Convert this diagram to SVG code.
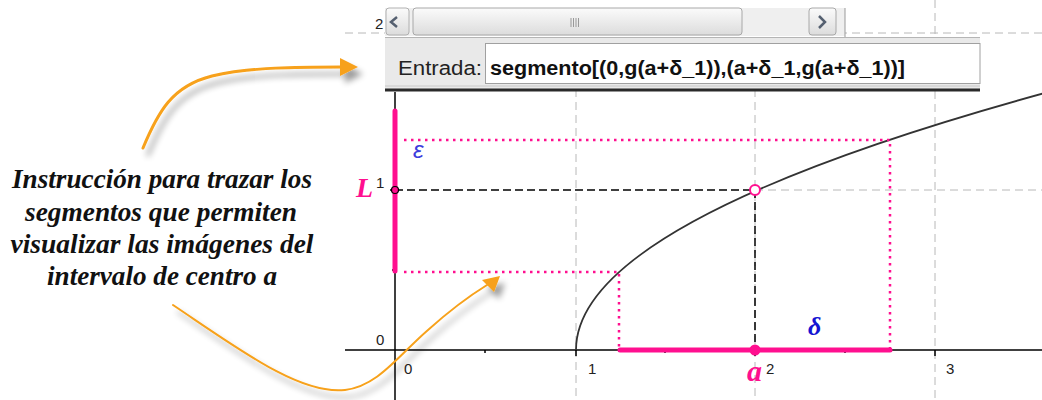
<svg xmlns="http://www.w3.org/2000/svg" width="1042" height="400" viewBox="0 0 1042 400">
<style>
.grid{stroke:#b8b8b8;stroke-width:1;stroke-dasharray:8 5;fill:none}
.axis{stroke:#000;stroke-width:1.5;fill:none}
.bdash{stroke:#000;stroke-width:1.5;stroke-dasharray:8 4;fill:none}
.pdot{stroke:#ff0f8f;stroke-width:2.5;stroke-dasharray:2.5 4.5;fill:none}
.pseg{stroke:#ff0f8f;stroke-width:5;stroke-linecap:round;fill:none}
.num{font-family:"Liberation Sans",Arial,sans-serif;font-size:15px;fill:#222}
.note{font-family:"Liberation Serif","Times New Roman",serif;font-style:italic;font-weight:bold;font-size:27px;fill:#111;text-anchor:middle}
.arr{stroke:#f7a11a;fill:none;stroke-linecap:round}
</style>
<defs>
<filter id="sh" x="-20%" y="-20%" width="150%" height="160%">
<feGaussianBlur in="SourceAlpha" stdDeviation="3"/>
<feOffset dx="5" dy="7" result="b"/>
<feComponentTransfer><feFuncA type="linear" slope="0.4"/></feComponentTransfer>
<feMerge><feMergeNode/><feMergeNode in="SourceGraphic"/></feMerge>
</filter>
<linearGradient id="thumb" x1="0" y1="0" x2="0" y2="1">
<stop offset="0" stop-color="#fbfbfb"/><stop offset="1" stop-color="#dcdcdc"/>
</linearGradient>
</defs>
<rect width="1042" height="400" fill="#fff"/>

<g id="grid">
<line class="grid" x1="576" y1="37" x2="576" y2="400"/>
<line class="grid" x1="755" y1="37" x2="755" y2="400"/>
<line class="grid" x1="935" y1="0" x2="935" y2="400"/>
<line class="grid" x1="345" y1="33" x2="1042" y2="33"/>
<line class="grid" x1="755" y1="190" x2="1042" y2="190"/>
</g>

<g id="axes">
<line class="axis" x1="345" y1="350" x2="1042" y2="350"/>
<line class="axis" x1="395" y1="92" x2="395" y2="400"/>
<path class="axis" d="M576,350v6M755,350v6M935,350v6M485,350v3M665,350v3M845,350v3M395,190h-5M395,270h-3"/>
<text class="num" x="376" y="188">1</text>
<text class="num" x="376" y="345">0</text>
<text class="num" x="404" y="374">0</text>
<text class="num" x="588" y="374">1</text>
<text class="num" x="766" y="374">2</text>
<text class="num" x="946" y="374">3</text>
<text class="num" x="375" y="29" font-size="17">2</text>
</g>

<g id="curve">
<path d="M576,350 Q576,221.2 1047.1,92.4" stroke="#333" stroke-width="1.8" fill="none"/>
</g>

<g id="guides">
<line class="bdash" x1="395" y1="190" x2="755" y2="190"/>
<line class="bdash" x1="755" y1="190" x2="755" y2="350"/>
<path class="pdot" d="M404,272H619V350"/>
<path class="pdot" d="M404,140H890V350"/>
</g>

<g id="intervals">
<line class="pseg" x1="395" y1="111" x2="395" y2="271"/>
<line class="pseg" x1="620" y1="350" x2="890" y2="350"/>
<circle cx="395" cy="190" r="3.5" fill="#ff0f8f" stroke="#000" stroke-width="1.2"/>
<circle cx="755" cy="190" r="5" fill="#fff" stroke="#ff0f8f" stroke-width="2"/>
<circle cx="755" cy="350" r="5.5" fill="#ff0f8f"/>
</g>

<g id="labels">
<text x="356" y="197" font-family="'Liberation Serif','Times New Roman',serif" font-style="italic" font-weight="bold" font-size="28" fill="#ff0f8f">L</text>
<text x="747" y="381" font-family="'Liberation Serif','Times New Roman',serif" font-style="italic" font-weight="bold" font-size="30" fill="#ff0f8f">a</text>
<text x="808" y="335" font-family="'Liberation Serif','Times New Roman',serif" font-style="italic" font-weight="bold" font-size="26" fill="#1414d2">δ</text>
<text x="413" y="158" font-family="'Liberation Sans',Arial,sans-serif" font-style="italic" font-size="24" fill="#3c3cdc">ε</text>
</g>

<g id="window">
<rect x="385" y="0" width="460" height="37" fill="#fff"/>
<rect x="385" y="8" width="460" height="28" fill="#efefef"/>
<rect x="386" y="8" width="23" height="27" rx="3" fill="url(#thumb)" stroke="#b0b0b0"/>
<path d="M397,17 L391,22 L397,27" stroke="#556070" stroke-width="2.5" fill="none"/>
<rect x="413" y="8" width="329" height="27" rx="3" fill="url(#thumb)" stroke="#a8a8a8"/>
<path d="M571,18v9M573.5,18v9M576,18v9M578.5,18v9" stroke="#999" stroke-width="1"/>
<rect x="809" y="8" width="27" height="27" rx="3" fill="url(#thumb)" stroke="#a8a8a8"/>
<path d="M819,16 L825,22 L819,28" stroke="#556070" stroke-width="2.5" fill="none"/>
<line x1="845" y1="8" x2="845" y2="37" stroke="#999"/>
<rect x="385" y="37" width="595" height="54" fill="#e9e9e9"/>
<line x1="385" y1="37.5" x2="980" y2="37.5" stroke="#b5b5b5"/>
<rect x="485.5" y="43.5" width="494.5" height="40" fill="#fff" stroke="#a0a0a0"/>
<line x1="385" y1="86" x2="980" y2="86" stroke="#c8c8c8"/>
<line x1="385" y1="90" x2="980" y2="90" stroke="#2a2a2a" stroke-width="3"/>
<text x="398" y="75" font-family="'Liberation Sans',Arial,sans-serif" font-size="20" fill="#222" textLength="84" lengthAdjust="spacingAndGlyphs">Entrada:</text>
<text x="490" y="75" font-family="'Liberation Sans',Arial,sans-serif" font-weight="bold" font-size="20" fill="#111" textLength="415" lengthAdjust="spacingAndGlyphs">segmento[(0,g(a+δ_1)),(a+δ_1,g(a+δ_1))]</text>
</g>

<g id="note">
<text class="note" x="162" y="188" textLength="300" lengthAdjust="spacingAndGlyphs">Instrucción para trazar los</text>
<text class="note" x="161" y="221" textLength="272" lengthAdjust="spacingAndGlyphs">segmentos que permiten</text>
<text class="note" x="162" y="253" textLength="303" lengthAdjust="spacingAndGlyphs">visualizar las imágenes del</text>
<text class="note" x="162" y="285" textLength="230" lengthAdjust="spacingAndGlyphs">intervalo de centro a</text>
</g>

<g id="connectors" filter="url(#sh)">
<path class="arr" stroke-width="3" d="M143,148 C158,112 172,86 212,76 C250,67 300,67 342,67"/>
<polygon points="340,58 358,67 340,76" fill="#f7a11a"/>
<path class="arr" stroke-width="2" d="M173,305 C240,350 300,395 345,390 C378,386 398,356 428,330 C448,312 466,298 487,285"/>
<polygon points="500,276 494,292 482,280" fill="#f7a11a"/>
</g>
</svg>
